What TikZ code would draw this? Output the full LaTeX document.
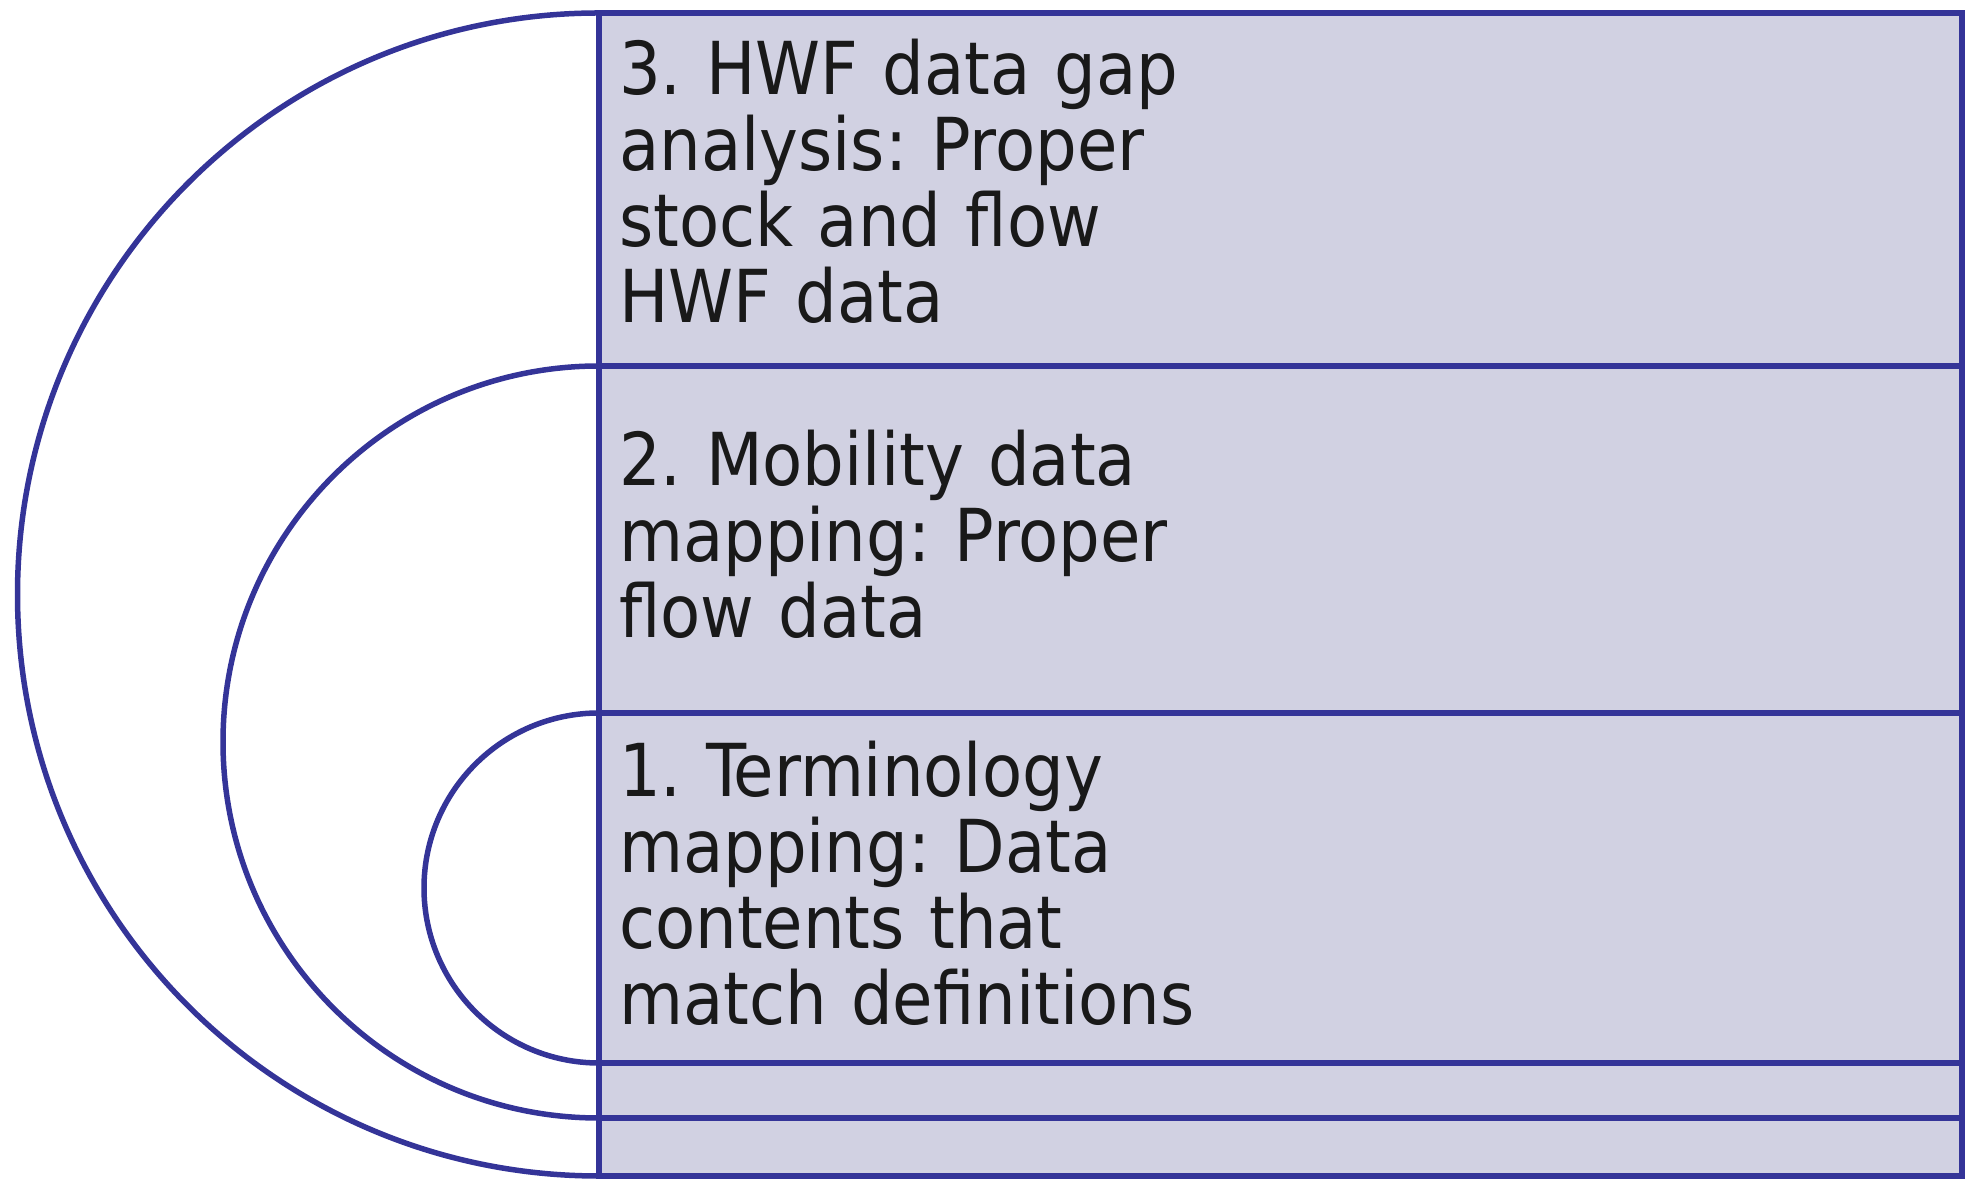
\documentclass[tikz,border=0pt]{standalone}
\usepackage{fontspec}
\setmainfont{DejaVu Sans Condensed}
\definecolor{boxfill}{RGB}{209,209,226}
\definecolor{boxline}{RGB}{52,52,152}
\definecolor{txt}{RGB}{25,25,25}
\begin{document}
\frenchspacing
\begin{tikzpicture}[x=1pt,y=1pt,
  band/.style={draw=boxline,fill=boxfill,line width=5.5pt,line join=miter},
  ring/.style={draw=boxline,line width=5.5pt},
  label/.style={anchor=base west,inner sep=0pt,text width=800pt,align=left,
    text=txt,font=\fontsize{73}{75.7}\selectfont\frenchspacing}]
\useasboundingbox (0,0) rectangle (1979,1180);
% bands
\path[band] (599,814) rectangle (1962,1167);
\path[band] (599,467) rectangle (1962,814);
\path[band] (599,117) rectangle (1962,467);
\path[band] (599,62) rectangle (1962,117);
\path[band] (599,4) rectangle (1962,62);
\coordinate (t3) at (599,1167);
\coordinate (t2) at (599,814);
\coordinate (t1) at (599,467);
% arcs
\draw[ring] (t3) arc[start angle=90,end angle=270,radius=581.5];
\draw[ring] (t2) arc[start angle=90,end angle=270,radius=376];
\draw[ring] (t1) arc[start angle=90,end angle=270,radius=175];
% texts
\node[label] (l3) at (619,1085) {3. HWF data gap\\analysis: Proper\\stock and flow\\HWF data};
\node[label] (l2) at (619,694) {2. Mobility data\\mapping: Proper\\flow data};
\node[label] (l1) at (619,383) {1. Terminology\\mapping: Data\\contents that\\match definitions};
\end{tikzpicture}
\end{document}
